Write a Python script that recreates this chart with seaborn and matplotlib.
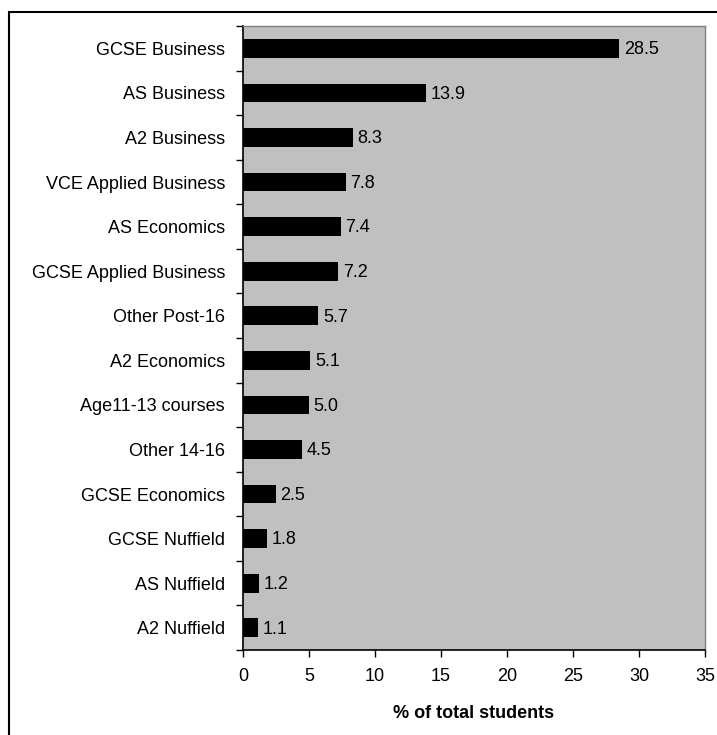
import numpy as np
import pandas as pd
import seaborn as sns
import matplotlib.pyplot as plt
from matplotlib.patches import Rectangle

courses = ['GCSE Business', 'AS Business', 'A2 Business', 'VCE Applied Business',
           'AS Economics', 'GCSE Applied Business', 'Other Post-16', 'A2 Economics',
           'Age11-13 courses', 'Other 14-16', 'GCSE Economics', 'GCSE Nuffield',
           'AS Nuffield', 'A2 Nuffield']
pct_students = [28.5, 13.9, 8.3, 7.8, 7.4, 7.2, 5.7, 5.1, 5.0, 4.5, 2.5, 1.8, 1.2, 1.1]
x_ticks = [0, 5, 10, 15, 20, 25, 30, 35]


def main():
    sns.set_theme(style='white')
    plt.rcParams['font.family'] = ['Liberation Sans', 'DejaVu Sans']
    plt.rcParams['text.color'] = 'black'
    plt.rcParams['axes.labelcolor'] = 'black'
    plt.rcParams['xtick.color'] = 'black'
    plt.rcParams['ytick.color'] = 'black'

    df = pd.DataFrame({'course': courses, 'pct': pct_students})

    fig = plt.figure(figsize=(7.17, 7.35), dpi=100)
    ax = fig.add_axes([0.3389, 0.1156, 0.6444, 0.849])
    ax.set_facecolor('#C0C0C0')

    sns.barplot(data=df, x='pct', y='course', orient='h', color='black',
                width=0.42, saturation=1, edgecolor='black', linewidth=0, ax=ax)

    for i, v in enumerate(pct_students):
        ax.text(v + 0.35, i + 0.03, f'{v:.1f}', va='center', ha='left', fontsize=13, color='black')

    ax.set_xlim(0, 35)
    ax.set_ylim(len(courses) - 0.5, -0.5)
    ax.set_xticks(x_ticks)
    ax.set_xticklabels([str(t) for t in x_ticks], fontsize=13)
    ax.tick_params(axis='y', which='major', left=True, length=0, labelsize=13, pad=13,
                   labelcolor='black')
    ax.set_yticks(np.arange(-0.5, len(courses), 1), minor=True)
    ax.tick_params(axis='y', which='minor', left=True, length=5, width=1, color='black',
                   direction='out')
    ax.tick_params(axis='x', bottom=True, length=5, width=1, color='black', direction='out',
                   pad=8, labelcolor='black')

    ax.set_xlabel('% of total students', fontsize=13, fontweight='bold', labelpad=14,
                  color='black')
    ax.set_ylabel('')

    for side in ['left', 'bottom']:
        ax.spines[side].set_color('black')
        ax.spines[side].set_linewidth(1.2)
    for side in ['top', 'right']:
        ax.spines[side].set_color('#808080')
        ax.spines[side].set_linewidth(1)

    # outer chart border
    fig.patches.append(Rectangle((9 / 717, -0.05), 1.2, 1 - 12 / 735 + 0.05,
                                 transform=fig.transFigure, fill=False,
                                 edgecolor='black', linewidth=1.5))

    plt.savefig('out.png', dpi=100)


if __name__ == "__main__":
    main()
